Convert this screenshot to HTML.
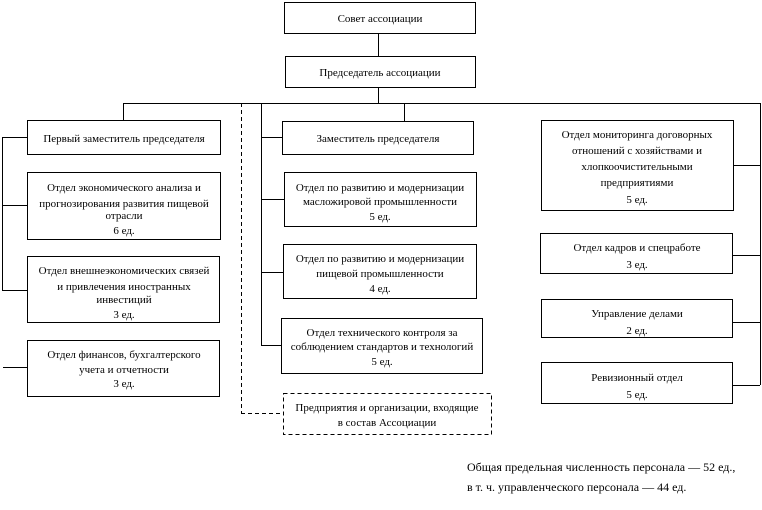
<!DOCTYPE html>
<html><head><meta charset="utf-8"><style>
html,body{margin:0;padding:0;background:#fff}
svg{display:block}
text{font-family:"Liberation Serif",serif;font-size:11px;fill:#000}
</style></head><body>
<svg width="762" height="510" viewBox="0 0 762 510" xmlns="http://www.w3.org/2000/svg">
<g fill="none" stroke="#000" stroke-width="1">
<rect x="284.5" y="2.5" width="191" height="31"/>
<rect x="285.5" y="56.5" width="190" height="31"/>
<line x1="378.5" y1="33" x2="378.5" y2="56"/>
<line x1="378.5" y1="87" x2="378.5" y2="103"/>
<line x1="123" y1="103.5" x2="761" y2="103.5"/>
<line x1="123.5" y1="103" x2="123.5" y2="120"/>
<line x1="404.5" y1="103" x2="404.5" y2="121"/>
<rect x="27.5" y="120.5" width="193" height="34"/>
<rect x="27.5" y="172.5" width="193" height="67"/>
<rect x="27.5" y="256.5" width="192" height="66"/>
<rect x="27.5" y="340.5" width="192" height="56"/>
<line x1="2.5" y1="137" x2="2.5" y2="290"/>
<line x1="2" y1="137.5" x2="27" y2="137.5"/>
<line x1="2" y1="205.5" x2="27" y2="205.5"/>
<line x1="2" y1="290.5" x2="27" y2="290.5"/>
<line x1="3" y1="367.5" x2="27" y2="367.5"/>
<line x1="261.5" y1="103" x2="261.5" y2="346"/>
<rect x="282.5" y="121.5" width="191" height="33"/>
<rect x="284.5" y="172.5" width="192" height="54"/>
<rect x="283.5" y="244.5" width="193" height="54"/>
<rect x="281.5" y="318.5" width="201" height="55"/>
<line x1="261" y1="137.5" x2="282" y2="137.5"/>
<line x1="261" y1="199.5" x2="284" y2="199.5"/>
<line x1="261" y1="272.5" x2="283" y2="272.5"/>
<line x1="261" y1="345.5" x2="281" y2="345.5"/>
<g stroke-dasharray="4,3">
<line x1="241.5" y1="103" x2="241.5" y2="413"/>
<line x1="241" y1="413.5" x2="283" y2="413.5"/>
<rect x="283.5" y="393.5" width="208" height="41"/>
</g>
<line x1="760.5" y1="103" x2="760.5" y2="385"/>
<rect x="541.5" y="120.5" width="192" height="90"/>
<rect x="540.5" y="233.5" width="192" height="40"/>
<rect x="541.5" y="299.5" width="191" height="38"/>
<rect x="541.5" y="362.5" width="191" height="41"/>
<line x1="733" y1="165.5" x2="760" y2="165.5"/>
<line x1="732" y1="255.5" x2="760" y2="255.5"/>
<line x1="732" y1="322.5" x2="760" y2="322.5"/>
<line x1="732" y1="385.5" x2="760" y2="385.5"/>
</g>
<g text-anchor="middle">
<text x="380" y="22">Совет ассоциации</text>
<text x="380" y="76">Председатель ассоциации</text>
<text x="124" y="142">Первый заместитель председателя</text>
<text x="124" y="191">Отдел экономического анализа и</text>
<text x="124" y="207">прогнозирования развития пищевой</text>
<text x="124" y="219">отрасли</text>
<text x="124" y="234">6 ед.</text>
<text x="124" y="274">Отдел внешнеэкономических связей</text>
<text x="124" y="290">и привлечения иностранных</text>
<text x="124" y="303">инвестиций</text>
<text x="124" y="318">3 ед.</text>
<text x="124" y="358">Отдел финансов, бухгалтерского</text>
<text x="124" y="373">учета и отчетности</text>
<text x="124" y="387">3 ед.</text>
<text x="378" y="142">Заместитель председателя</text>
<text x="380" y="191">Отдел по развитию и модернизации</text>
<text x="380" y="205">масложировой промышленности</text>
<text x="380" y="220">5 ед.</text>
<text x="380" y="262">Отдел по развитию и модернизации</text>
<text x="380" y="277">пищевой промышленности</text>
<text x="380" y="292">4 ед.</text>
<text x="382" y="336">Отдел технического контроля за</text>
<text x="382" y="350">соблюдением стандартов и технологий</text>
<text x="382" y="365">5 ед.</text>
<text x="387" y="411">Предприятия и организации, входящие</text>
<text x="387" y="426">в состав Ассоциации</text>
<text x="637" y="138">Отдел мониторинга договорных</text>
<text x="637" y="154">отношений с хозяйствами и</text>
<text x="637" y="170">хлопкоочистительными</text>
<text x="637" y="186">предприятиями</text>
<text x="637" y="203">5 ед.</text>
<text x="637" y="251">Отдел кадров и спецработе</text>
<text x="637" y="268">3 ед.</text>
<text x="637" y="317">Управление делами</text>
<text x="637" y="334">2 ед.</text>
<text x="637" y="381">Ревизионный отдел</text>
<text x="637" y="398">5 ед.</text>
</g>
<text x="467" y="471" style="font-size:12px">Общая предельная численность персонала — 52 ед.,</text>
<text x="467" y="491" style="font-size:12px">в т. ч. управленческого персонала — 44 ед.</text>
</svg>
</body></html>
